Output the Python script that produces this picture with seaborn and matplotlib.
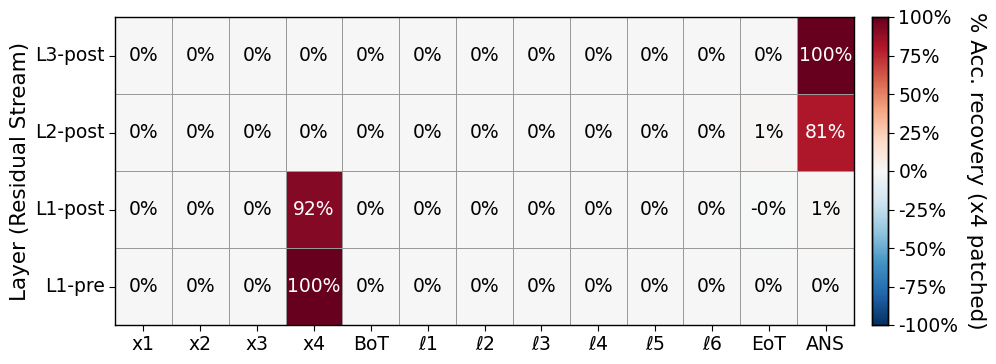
import numpy as np
import pandas as pd
import matplotlib
matplotlib.use("Agg")
import matplotlib.pyplot as plt
import seaborn as sns
from matplotlib.ticker import FuncFormatter

layers = ["L3-post", "L2-post", "L1-post", "L1-pre"]
tokens = ["x1", "x2", "x3", "x4", "BoT", r"$\ell$1", r"$\ell$2", r"$\ell$3",
          r"$\ell$4", r"$\ell$5", r"$\ell$6", "EoT", "ANS"]
row_l3_post = [0, 0, 0, 0, 0, 0, 0, 0, 0, 0, 0, 0, 100]
row_l2_post = [0, 0, 0, 0, 0, 0, 0, 0, 0, 0, 0, 1, 81]
row_l1_post = [0, 0, 0, 92, 0, 0, 0, 0, 0, 0, 0, -0.2, 1]
row_l1_pre = [0, 0, 0, 100, 0, 0, 0, 0, 0, 0, 0, 0, 0]
cbar_ticks = [-100, -75, -50, -25, 0, 25, 50, 75, 100]

data = pd.DataFrame([row_l3_post, row_l2_post, row_l1_post, row_l1_pre],
                    index=layers, columns=tokens)
labels = data.map(lambda v: f"{v:.0f}%")

plt.rcParams['font.family'] = ['DejaVu Sans']
fig = plt.figure(figsize=(9.96, 3.64), dpi=100)
W, H = 996, 364
ax = fig.add_axes([115 / W, (H - 325) / H, (854 - 115) / W, (325 - 17) / H])
cax = fig.add_axes([872 / W, (H - 325) / H, (888 - 872) / W, (325 - 17) / H])

sns.heatmap(data, ax=ax, cbar_ax=cax, cmap="RdBu_r", vmin=-100, vmax=100,
            annot=labels, fmt="", annot_kws={"fontsize": 13.5},
            linewidths=0.5, linecolor="#999999",
            cbar_kws={"ticks": cbar_ticks, "format": FuncFormatter(lambda v, p: f"{v:.0f}%")})

for t in ax.texts:
    if t.get_color() != "w":
        t.set_color("black")

for s in ax.spines.values():
    s.set_visible(True)
    s.set_color("black")
    s.set_linewidth(1)

ax.set_ylabel("Layer (Residual Stream)", fontsize=15.5)
ax.set_xlabel("")
ax.tick_params(axis="both", labelsize=13.5, length=4)
ax.set_yticklabels(layers, rotation=0)
ax.set_xticklabels(tokens, rotation=0)

cax.tick_params(labelsize=13.5, length=4)
cax.set_ylabel("% Acc. recovery (x4 patched)", fontsize=15.5, rotation=270, labelpad=20)
for s in cax.spines.values():
    s.set_visible(True)
    s.set_color("black")
    s.set_linewidth(1)

fig.savefig("out.png", dpi=100)
